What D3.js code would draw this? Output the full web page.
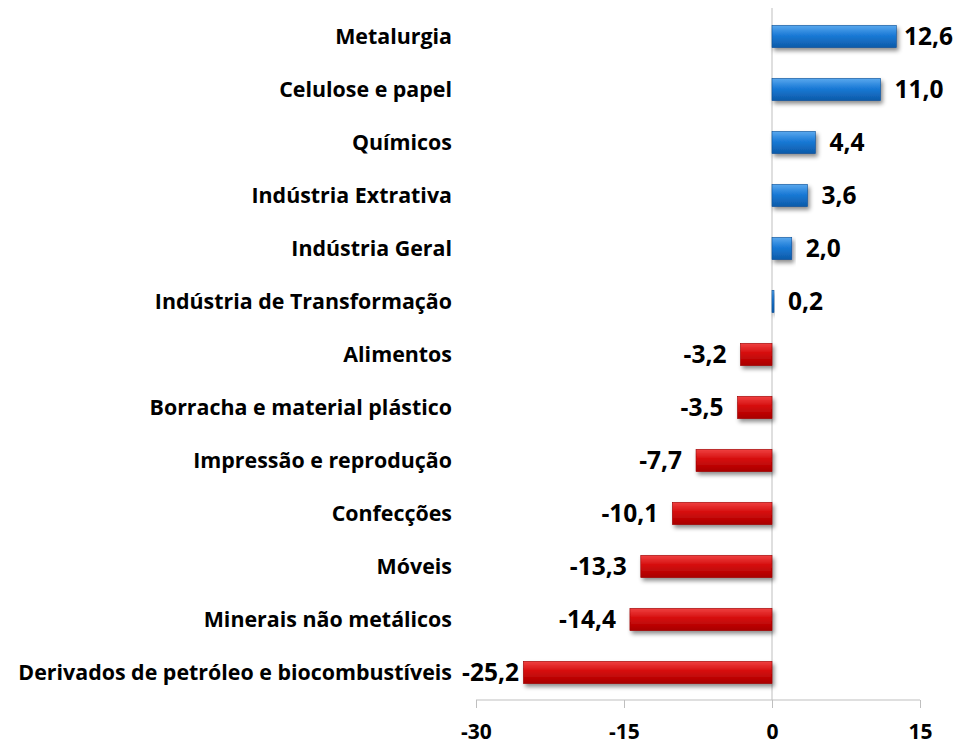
<!DOCTYPE html>
<html><head><meta charset="utf-8">
<script src="https://cdn.jsdelivr.net/npm/d3@7"></script>
<style>body{margin:0;background:#fff}svg{display:block}text{font-family:"Open Sans",sans-serif;font-weight:bold;fill:#000}</style>
</head><body><svg id="c" width="957" height="744"></svg>
<script>
const categories = ["Metalurgia","Celulose e papel","Químicos","Indústria Extrativa","Indústria Geral","Indústria de Transformação","Alimentos","Borracha e material plástico","Impressão e reprodução","Confecções","Móveis","Minerais não metálicos","Derivados de petróleo e biocombustíveis"];
const values = [12.6,11.0,4.4,3.6,2.0,0.2,-3.2,-3.5,-7.7,-10.1,-13.3,-14.4,-25.2];
const ticks = [-30,-15,0,15];

const svg = d3.select("#c");
const x = d3.scaleLinear().domain([-30,15]).range([476,920]);
const y = d3.scaleBand().domain(categories).range([10,699]).paddingInner(0.58).paddingOuter(0.29);
const fmt = d => (d<0?"-":"") + d3.format(".1f")(Math.abs(d)).replace(".",",");

const defs = svg.append("defs");
function grad(id, c1, c2, c3){
  const g = defs.append("linearGradient").attr("id",id).attr("x1",0).attr("y1",0).attr("x2",0).attr("y2",1);
  g.append("stop").attr("offset","0%").attr("stop-color",c1);
  g.append("stop").attr("offset","45%").attr("stop-color",c2);
  g.append("stop").attr("offset","100%").attr("stop-color",c3);
}
grad("gb","#5aa8ee","#1a7ad6","#0d5aa8");
grad("gr","#f04040","#d40c0c","#a80000");
const f = defs.append("filter").attr("id","sh").attr("x","-10%").attr("y","-30%").attr("width","130%").attr("height","190%");
f.append("feDropShadow").attr("dx",2).attr("dy",3).attr("stdDeviation",2).attr("flood-color","#000").attr("flood-opacity",0.45);

// axis lines
svg.append("line").attr("x1",x(0)).attr("x2",x(0)).attr("y1",8).attr("y2",700).attr("stroke","#bfbfbf").attr("stroke-width",1);
const ax = svg.append("g").attr("transform","translate(0,700)")
  .call(d3.axisBottom(x).tickValues(ticks).tickSize(8).tickPadding(16).tickFormat(d => (d<0?"-":"") + Math.abs(d)));
ax.select(".domain").attr("stroke","#bfbfbf").attr("d","M476,0H920");
ax.selectAll(".tick line").attr("stroke","#bfbfbf");
ax.selectAll(".tick text").style("font-size","21px").style("font-family","'Open Sans',sans-serif").style("font-weight","bold").attr("fill","#000");

// bars
const bw = y.bandwidth();
svg.append("g").selectAll("rect").data(values).join("rect")
  .attr("x",(d)=>x(Math.min(0,d)))
  .attr("y",(d,i)=>y(categories[i]))
  .attr("width",d=>Math.abs(x(d)-x(0)))
  .attr("height",bw)
  .attr("fill",d=>d>=0?"url(#gb)":"url(#gr)")
  .attr("stroke",d=>d>=0?"#0b4f96":"#9a0000").attr("stroke-width",0.6)
  .attr("filter","url(#sh)");

// value labels (outside end, kept within chart area)
const gap = 14, minX = 462, maxX = 953;
const vl = svg.append("g").selectAll("text").data(values).join("text")
  .attr("y",(d,i)=>y(categories[i])+bw/2)
  .attr("dy","0.36em")
  .attr("text-anchor","start")
  .style("font-size","24.5px")
  .text(fmt);
vl.each(function(d){
  const w = this.getComputedTextLength();
  let sx = d>=0 ? x(d)+gap : x(d)-gap-w;
  sx = Math.max(minX, Math.min(maxX - w, sx));
  d3.select(this).attr("x", sx);
});

// category labels
svg.append("g").selectAll("text").data(categories).join("text")
  .attr("x",452)
  .attr("y",d=>y(d)+bw/2)
  .attr("dy","0.36em")
  .attr("text-anchor","end")
  .style("font-size","21.4px")
  .text(d=>d);
</script></body></html>
